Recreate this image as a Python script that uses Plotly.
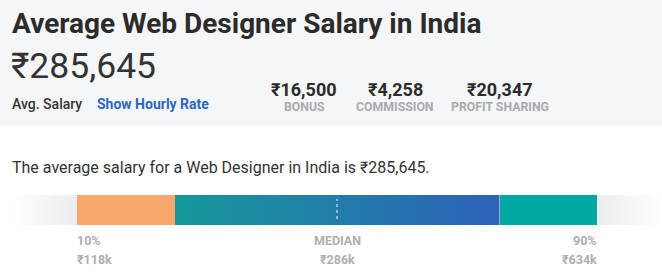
import numpy as np
import plotly.graph_objects as go

# ---- data ----
title = "Average Web Designer Salary in India"
avg_salary = "₹285,645"
extra_values = ["₹16,500", "₹4,258", "₹20,347"]
extra_labels = ["BONUS", "COMMISSION", "PROFIT SHARING"]
sentence = "The average salary for a Web Designer in India is ₹285,645."
pct_starts = [10, 25, 75]
pct_widths = [15, 50, 15]
marker_pcts = [10, 50, 90]
marker_names = ["10%", "MEDIAN", "90%"]
marker_values = ["₹118k", "₹286k", "₹634k"]

W, H = 662, 279
FONT = "Roboto"


def px(x):
    return x / W


def py(y):
    return 1 - y / H


fig = go.Figure()

# fades and gradient (styling)
def grad(x0, x1, c0, c1, n=60):
    edges = np.linspace(x0, x1, n + 1)
    z = [np.linspace(0, 1, n).tolist()]
    fig.add_trace(go.Heatmap(x=edges, y=[-0.5, 0.5], z=z,
                             colorscale=[[0, c0], [1, c1]], showscale=False,
                             zmin=0, zmax=1, hoverinfo="skip"))

grad(0, pct_starts[0], "#ffffff", "#ececef")
grad(pct_starts[1], pct_starts[1] + pct_widths[1], "#16989b", "#2d62b8")
grad(pct_starts[2] + pct_widths[2], 100, "#ececef", "#ffffff")

fig.add_trace(go.Bar(
    y=[0, 0, 0], x=pct_widths, base=pct_starts, orientation="h",
    marker=dict(color=["#f8a76e", "rgba(0,0,0,0)", "#00a9a1"], line=dict(width=0)),
    width=1, hoverinfo="skip", showlegend=False))

fig.update_layout(
    width=W, height=H, margin=dict(l=0, r=0, t=0, b=0),
    paper_bgcolor="white", plot_bgcolor="rgba(0,0,0,0)",
    showlegend=False, bargap=0,
    xaxis=dict(domain=[px(12), 1], range=[0, 100], visible=False, fixedrange=True),
    yaxis=dict(domain=[py(225), py(195)], range=[-0.5, 0.5], visible=False, fixedrange=True),
    font=dict(family=FONT),
)

shapes = [
    dict(type="rect", xref="paper", yref="paper", x0=0, x1=1, y0=py(126), y1=1,
         fillcolor="#f5f6f8", line=dict(width=0), layer="below"),
    dict(type="line", xref="x", yref="y", x0=marker_pcts[1], x1=marker_pcts[1],
         y0=-0.3, y1=0.37, line=dict(color="#8fb6e0", width=2, dash="dot")),
]
fig.update_layout(shapes=shapes)

ann = []


def text(x, y, s, size, color, weight=400, xanchor="left", xref="paper"):
    ann.append(dict(x=px(x) if xref == "paper" else x, y=py(y), xref=xref, yref="paper",
                    text=s, showarrow=False, xanchor=xanchor, yanchor="middle",
                    font=dict(family=FONT, size=size, color=color, weight=weight)))


text(10, 23, title, 28, "#2b2b2b", 700)
text(9, 66.5, avg_salary, 35.5, "#333333", 400)
text(10, 104, "Avg. Salary", 14, "#333333", 500)
text(95, 104, "Show Hourly Rate", 14, "#2968bd", 700)

centers = [304, 395, 500]
for c, v, l in zip(centers, extra_values, extra_labels):
    text(c, 89, v, 18, "#2b2b2b", 700, "center")
    text(c, 106.5, l, 12.3, "#aaaaae", 700, "center")

text(10, 167, sentence, 16, "#333333", 400)

anchors = ["left", "center", "right"]
shifts = [-2, 0, 2]
for p, n, v, a, s in zip(marker_pcts, marker_names, marker_values, anchors, shifts):
    ann.append(dict(x=p, y=py(240), xref="x", yref="paper", text=n, showarrow=False,
                    xanchor=a, yanchor="middle", xshift=s,
                    font=dict(family=FONT, size=12.5, color="#aeaeb3", weight=700)))
    ann.append(dict(x=p, y=py(259), xref="x", yref="paper", text=v, showarrow=False,
                    xanchor=a, yanchor="middle", xshift=s,
                    font=dict(family=FONT, size=12.5, color="#aeaeb3", weight=700)))

fig.update_layout(annotations=ann)
fig.write_html("out.html", config={"displayModeBar": False})
